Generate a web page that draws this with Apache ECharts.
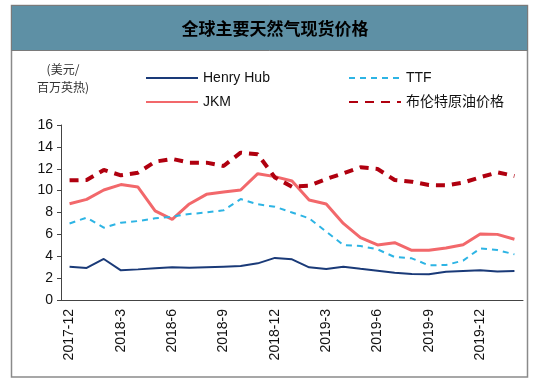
<!DOCTYPE html>
<html><head><meta charset="utf-8">
<script src="https://cdn.jsdelivr.net/npm/echarts@6/dist/echarts.min.js"></script>
<style>html,body{margin:0;padding:0;background:#fff}#c{width:550px;height:391px}</style>
</head><body><div id="c"></div>
<script>
const months = ['2017-12','2018-1','2018-2','2018-3','2018-4','2018-5','2018-6','2018-7','2018-8','2018-9','2018-10','2018-11','2018-12','2019-1','2019-2','2019-3','2019-4','2019-5','2019-6','2019-7','2019-8','2019-9','2019-10','2019-11','2019-12','2020-1','2020-2'];
const henryHub = [3.05,2.93,3.75,2.71,2.8,2.9,3.0,2.95,3.0,3.05,3.1,3.35,3.85,3.72,2.99,2.83,3.05,2.86,2.68,2.5,2.38,2.35,2.59,2.65,2.71,2.6,2.65];
const jkm = [8.8,9.2,10.06,10.55,10.33,8.14,7.38,8.78,9.66,9.87,10.06,11.55,11.28,10.88,9.14,8.78,7.0,5.7,5.03,5.24,4.54,4.54,4.75,5.06,6.03,6.0,5.55];
const ttf = [7.0,7.53,6.61,7.07,7.22,7.47,7.62,7.86,8.0,8.2,9.23,8.75,8.53,8.0,7.47,6.25,5.03,4.94,4.63,3.93,3.81,3.17,3.2,3.6,4.72,4.57,4.17];
const brent = [10.94,10.97,11.89,11.4,11.64,12.65,12.9,12.56,12.56,12.25,13.47,13.32,11.2,10.36,10.45,11.06,11.58,12.13,11.98,10.97,10.82,10.51,10.48,10.73,11.22,11.67,11.34];
const yTicks = [0,2,4,6,8,10,12,14,16];

const chart = echarts.init(document.getElementById('c'));
chart.setOption({
  animation:false,
  backgroundColor:'#fff',
  graphic:[
    {type:'rect',shape:{x:11.5,y:5.5,width:516,height:371.5},style:{fill:'none',stroke:'#8a8a8a',lineWidth:1.5}},
    {type:'rect',shape:{x:11.5,y:5.5,width:516,height:45},style:{fill:'#5e90a5',stroke:'#7a7a7a',lineWidth:1}},
    {type:'text',x:63,y:63,style:{text:'(美元/',fill:'#333',font:'12px "Noto Sans CJK SC"',align:'center'}},
    {type:'text',x:63,y:81,style:{text:'百万英热)',fill:'#333',font:'12px "Noto Sans CJK SC"',align:'center'}}
  ],
  title:{text:'全球主要天然气现货价格',left:'center',top:15,textStyle:{fontSize:17,fontWeight:'bold',color:'#000',fontFamily:'"Noto Sans CJK SC"'}},
  legend:[
    {left:145,top:71,padding:0,orient:'vertical',itemWidth:52,itemHeight:14,itemGap:10,
     itemStyle:{opacity:0},
     textStyle:{fontSize:14,fontFamily:'Arial, "Liberation Sans"',color:'#111'},
     data:['Henry Hub','JKM']},
    {left:348,top:71,padding:0,orient:'vertical',itemWidth:52,itemHeight:14,itemGap:10,
     itemStyle:{opacity:0},
     textStyle:{fontSize:14,fontFamily:'Arial, "Noto Sans CJK SC"',color:'#111'},
     data:['TTF','布伦特原油价格']}
  ],
  grid:{left:61,right:27,top:125,bottom:91},
  xAxis:{type:'category',data:months,boundaryGap:true,
    axisLine:{lineStyle:{color:'#444',width:1}},
    axisTick:{interval:0,length:4,lineStyle:{color:'#444'}},
    axisLabel:{interval:2,rotate:90,fontSize:14,color:'#111',fontFamily:'Arial, "Liberation Sans"',margin:9}},
  yAxis:{type:'value',min:yTicks[0],max:yTicks[yTicks.length-1],interval:2,
    axisLine:{show:true,lineStyle:{color:'#444'}},
    axisTick:{show:true,length:4,lineStyle:{color:'#444'}},
    splitLine:{show:false},
    axisLabel:{fontSize:14,color:'#111',fontFamily:'Arial, "Liberation Sans"',margin:8}},
  series:[
    {name:'Henry Hub',type:'line',data:henryHub,symbol:'none',lineStyle:{color:'#1a3a78',width:2},itemStyle:{color:'#1a3a78'}},
    {name:'JKM',type:'line',data:jkm,symbol:'none',lineStyle:{color:'#f2686b',width:3},itemStyle:{color:'#f2686b'}},
    {name:'TTF',type:'line',data:ttf,symbol:'none',lineStyle:{color:'#2db4e4',width:2,type:[6,5]},itemStyle:{color:'#2db4e4'}},
    {name:'布伦特原油价格',type:'line',data:brent,symbol:'none',lineStyle:{color:'#b0000f',width:4,type:[9,7]},itemStyle:{color:'#b0000f'}}
  ]
});
</script></body></html>
